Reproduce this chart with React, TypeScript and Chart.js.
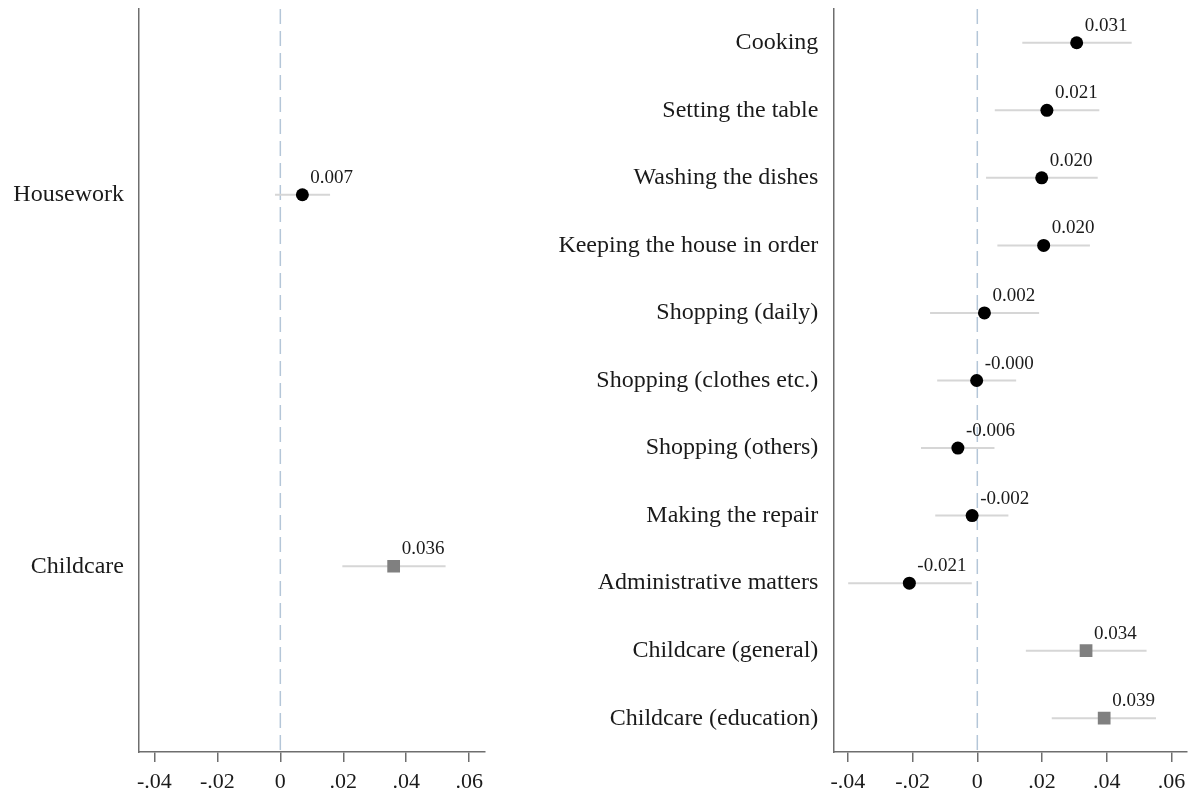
import React, { useEffect, useRef } from "react";
import { Chart, registerables } from "chart.js";

Chart.register(...registerables);

// ---------- data ----------
const leftCategories = ["Housework", "Childcare"];
const leftEstimates = [0.007, 0.036];
const leftLower = [-0.0017, 0.0197];
const leftUpper = [0.0158, 0.0525];
const leftValueLabels = ["0.007", "0.036"];
const leftKinds = ["circle", "square"];

const rightCategories = [
  "Cooking",
  "Setting the table",
  "Washing the dishes",
  "Keeping the house in order",
  "Shopping (daily)",
  "Shopping (clothes etc.)",
  "Shopping (others)",
  "Making the repair",
  "Administrative matters",
  "Childcare (general)",
  "Childcare (education)",
];
const rightEstimates = [0.0307, 0.0215, 0.0199, 0.0205, 0.0022, -0.0002, -0.006, -0.0016, -0.021, 0.0336, 0.0392];
const rightLower = [0.0139, 0.0054, 0.0027, 0.0062, -0.0146, -0.0124, -0.0174, -0.013, -0.0399, 0.015, 0.023];
const rightUpper = [0.0477, 0.0377, 0.0372, 0.0348, 0.0191, 0.012, 0.0053, 0.0096, -0.0017, 0.0523, 0.0552];
const rightValueLabels = ["0.031", "0.021", "0.020", "0.020", "0.002", "-0.000", "-0.006", "-0.002", "-0.021", "0.034", "0.039"];
const rightKinds = ["circle", "circle", "circle", "circle", "circle", "circle", "circle", "circle", "circle", "square", "square"];

const xTickValues = [-0.04, -0.02, 0, 0.02, 0.04, 0.06];

// ---------- styles ----------
const FONT = "'Liberation Serif', 'Times New Roman', serif";
const AXIS_COLOR = "#6e6e6e";
const CI_COLOR = "#d6d6d6";
const ZERO_COLOR = "#b4c6d8";

const fmtTick = (v: number) => {
  if (Math.abs(v) < 1e-9) return "0";
  return (v < 0 ? "-" : "") + Math.abs(v).toFixed(2).replace(/^0/, "");
};

const valueLabelPlugin = {
  id: "valueLabels",
  afterDatasetsDraw(chart: any) {
    const ctx = chart.ctx;
    ctx.save();
    ctx.font = `19px ${FONT}`;
    ctx.fillStyle = "#1a1a1a";
    ctx.textAlign = "left";
    ctx.textBaseline = "alphabetic";
    chart.data.datasets.forEach((ds: any, di: number) => {
      if (!ds.valueLabels) return;
      const meta = chart.getDatasetMeta(di);
      meta.data.forEach((el: any, j: number) => {
        ctx.fillText(ds.valueLabels[j], el.x + 8, el.y - 12);
      });
    });
    ctx.restore();
  },
};

type PanelProps = {
  cats: string[];
  est: number[];
  lo: number[];
  hi: number[];
  labels: string[];
  kinds: string[];
  left: number;
  width: number;
  xmin: number;
  xmax: number;
  yAxisWidth: number;
  padRight: number;
};

function Panel(p: PanelProps) {
  const ref = useRef<HTMLCanvasElement | null>(null);
  useEffect(() => {
    if (!ref.current) return;
    const n = p.cats.length;
    const idx = p.cats.map((_, i) => i);
    const ciSets = idx.map((i) => ({
      type: "line" as const,
      data: [
        { x: p.lo[i], y: i + 1 },
        { x: p.hi[i], y: i + 1 },
      ],
      borderColor: CI_COLOR,
      borderWidth: 2,
      pointRadius: 0,
      showLine: true,
      order: 2,
    }));
    const circles = idx.filter((i) => p.kinds[i] === "circle");
    const squares = idx.filter((i) => p.kinds[i] === "square");
    const chart = new Chart(ref.current, {
      type: "scatter",
      data: {
        datasets: [
          {
            data: circles.map((i) => ({ x: p.est[i], y: i + 1 })),
            valueLabels: circles.map((i) => p.labels[i]),
            pointStyle: "circle",
            pointRadius: 6.5,
            pointBackgroundColor: "#000000",
            pointBorderWidth: 0,
            order: 0,
          } as any,
          {
            data: squares.map((i) => ({ x: p.est[i], y: i + 1 })),
            valueLabels: squares.map((i) => p.labels[i]),
            pointStyle: "rect",
            pointRadius: 9,
            pointBackgroundColor: "#808080",
            pointBorderWidth: 0,
            order: 0,
          } as any,
          ...ciSets,
          {
            type: "line",
            data: [
              { x: 0, y: 0.5 },
              { x: 0, y: n + 0.5 },
            ],
            borderColor: ZERO_COLOR,
            borderWidth: 1.5,
            borderDash: [15, 7],
            pointRadius: 0,
            showLine: true,
            order: 3,
          },
        ],
      },
      options: {
        animation: false,
        responsive: false,
        maintainAspectRatio: false,
        events: [],
        layout: { padding: { top: 8, right: p.padRight, left: 0, bottom: 0 } },
        plugins: { legend: { display: false }, tooltip: { enabled: false } },
        scales: {
          x: {
            type: "linear",
            min: p.xmin,
            max: p.xmax,
            afterBuildTicks: (s: any) => {
              s.ticks = xTickValues.map((v) => ({ value: v }));
            },
            afterFit: (s: any) => {
              s.height = 43;
              s.paddingLeft = 0;
              s.paddingRight = 0;
              s.paddingTop = 0;
              s.paddingBottom = 0;
            },
            ticks: {
              callback: (v: any) => fmtTick(Number(v)),
              autoSkip: false,
              maxRotation: 0,
              padding: 7,
              color: "#1a1a1a",
              font: { family: FONT, size: 22 },
            },
            grid: {
              display: true,
              drawOnChartArea: false,
              drawTicks: true,
              tickLength: 10,
              color: AXIS_COLOR,
              lineWidth: 1.5,
            },
            border: { display: true, color: AXIS_COLOR, width: 1.5 },
          },
          y: {
            type: "linear",
            reverse: true,
            min: 0.5,
            max: n + 0.5,
            afterBuildTicks: (s: any) => {
              s.ticks = p.cats.map((_, i) => ({ value: i + 1 }));
            },
            afterFit: (s: any) => {
              s.width = p.yAxisWidth;
              s.paddingLeft = 0;
              s.paddingRight = 0;
              s.paddingTop = 0;
              s.paddingBottom = 0;
            },
            ticks: {
              callback: (v: any) => p.cats[Math.round(Number(v)) - 1] ?? "",
              autoSkip: false,
              padding: 15,
              color: "#1a1a1a",
              font: { family: FONT, size: 24 },
            },
            grid: { display: false, drawTicks: false },
            border: { display: true, color: AXIS_COLOR, width: 1.5 },
          },
        },
      } as any,
      plugins: [valueLabelPlugin],
    });
    return () => chart.destroy();
  }, []);
  return (
    <canvas
      ref={ref}
      width={p.width}
      height={795}
      style={{ position: "absolute", left: p.left, top: 0, width: p.width, height: 795 }}
    />
  );
}

export default function App() {
  return (
    <div style={{ position: "fixed", left: 0, top: 0, width: 1196, height: 795, background: "#ffffff" }}>
      <Panel
        cats={leftCategories}
        est={leftEstimates}
        lo={leftLower}
        hi={leftUpper}
        labels={leftValueLabels}
        kinds={leftKinds}
        left={0}
        width={500}
        xmin={-0.0449}
        xmax={0.0648}
        yAxisWidth={139}
        padRight={15.7}
      />
      <Panel
        cats={rightCategories}
        est={rightEstimates}
        lo={rightLower}
        hi={rightUpper}
        labels={rightValueLabels}
        kinds={rightKinds}
        left={500}
        width={696}
        xmin={-0.0445}
        xmax={0.0647}
        yAxisWidth={333.3}
        padRight={9.3}
      />
    </div>
  );
}
